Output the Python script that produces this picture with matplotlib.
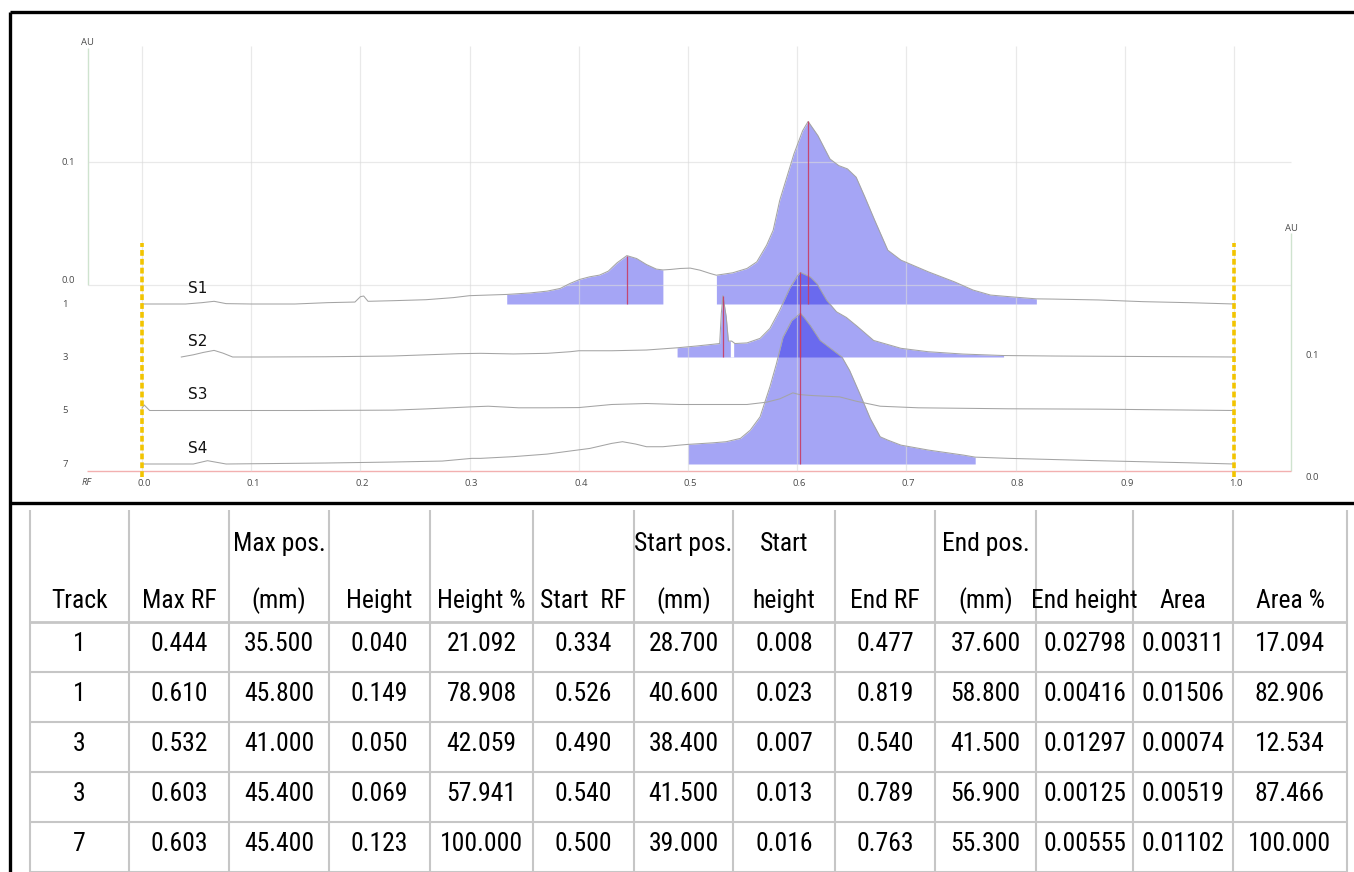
import matplotlib
matplotlib.use("Agg")
import matplotlib.pyplot as plt
import numpy as np
from matplotlib import font_manager
from matplotlib.font_manager import FontProperties

# ---------------- data: densitometric traces (Rf, AU above each track baseline) -------------
rf_t1 = [0.000, 0.040, 0.055, 0.066, 0.077, 0.100, 0.140, 0.170, 0.195, 0.200, 0.203, 0.207,
         0.230, 0.260, 0.285, 0.300, 0.334, 0.355, 0.371, 0.383, 0.392, 0.401, 0.410, 0.419,
         0.427, 0.435, 0.444, 0.453, 0.462, 0.471, 0.477, 0.484, 0.493, 0.502, 0.511, 0.520,
         0.526, 0.541, 0.554, 0.563, 0.572, 0.578, 0.584, 0.597, 0.605, 0.610, 0.619, 0.630,
         0.638, 0.646, 0.654, 0.662, 0.671, 0.683, 0.695, 0.720, 0.744, 0.761, 0.777, 0.794,
         0.819, 0.835, 0.876, 0.917, 0.958, 1.000]
au_t1 = [0.0000, 0.0000, 0.0011, 0.0022, 0.0003, 0.0000, 0.0000, 0.0011, 0.0016, 0.0060, 0.0065, 0.0022,
         0.0027, 0.0035, 0.0052, 0.0068, 0.0078, 0.0090, 0.0105, 0.0127, 0.0168, 0.0201, 0.0222, 0.0236,
         0.0268, 0.0336, 0.0395, 0.0371, 0.0322, 0.0285, 0.0278, 0.0282, 0.0290, 0.0293, 0.0276, 0.0250,
         0.0235, 0.0255, 0.0290, 0.0344, 0.0480, 0.0602, 0.0846, 0.1225, 0.1415, 0.1490, 0.1374, 0.1184,
         0.1130, 0.1103, 0.1035, 0.0873, 0.0683, 0.0439, 0.0358, 0.0263, 0.0181, 0.0114, 0.0073, 0.0060,
         0.0042, 0.0040, 0.0033, 0.0019, 0.0011, 0.0000]

rf_t3 = [0.036, 0.047, 0.056, 0.066, 0.074, 0.083, 0.107, 0.168, 0.229, 0.290, 0.310, 0.340,
         0.371, 0.392, 0.400, 0.430, 0.462, 0.490, 0.508, 0.523, 0.529, 0.5305, 0.532, 0.535,
         0.537, 0.540, 0.543, 0.554, 0.566, 0.575, 0.584, 0.593, 0.600, 0.603, 0.612, 0.618,
         0.627, 0.636, 0.645, 0.655, 0.670, 0.695, 0.720, 0.752, 0.789, 0.835, 0.917, 1.000]
au_t3 = [0.0000, 0.0018, 0.0037, 0.0054, 0.0032, 0.0000, 0.0000, 0.0002, 0.0008, 0.0027, 0.0030, 0.0025,
         0.0030, 0.0043, 0.0051, 0.0051, 0.0057, 0.0075, 0.0090, 0.0104, 0.0110, 0.0355, 0.0500, 0.0328,
         0.0130, 0.0130, 0.0110, 0.0115, 0.0152, 0.0233, 0.0382, 0.0558, 0.0660, 0.0690, 0.0653, 0.0599,
         0.0463, 0.0369, 0.0323, 0.0250, 0.0135, 0.0071, 0.0043, 0.0024, 0.0012, 0.0008, 0.0004, 0.0000]

rf_t5 = [0.000, 0.002, 0.007, 0.050, 0.150, 0.230, 0.260, 0.302, 0.317, 0.345, 0.371, 0.400,
         0.430, 0.462, 0.492, 0.523, 0.554, 0.572, 0.584, 0.596, 0.602, 0.614, 0.639, 0.654,
         0.676, 0.711, 0.793, 0.875, 1.000]
au_t5 = [0.0020, 0.0045, 0.0000, 0.0000, 0.0000, 0.0003, 0.0013, 0.0030, 0.0035, 0.0022, 0.0022, 0.0024,
         0.0049, 0.0057, 0.0049, 0.0049, 0.0049, 0.0068, 0.0095, 0.0144, 0.0130, 0.0122, 0.0111, 0.0076,
         0.0035, 0.0022, 0.0014, 0.0011, 0.0000]

rf_t7 = [0.000, 0.047, 0.060, 0.077, 0.168, 0.229, 0.275, 0.302, 0.310, 0.340, 0.371, 0.392,
         0.410, 0.430, 0.440, 0.452, 0.462, 0.477, 0.492, 0.500, 0.523, 0.535, 0.548, 0.557,
         0.566, 0.575, 0.581, 0.587, 0.595, 0.603, 0.606, 0.612, 0.621, 0.633, 0.641, 0.648,
         0.658, 0.667, 0.676, 0.683, 0.695, 0.720, 0.752, 0.763, 0.794, 0.875, 0.958, 1.000]
au_t7 = [0.0000, 0.0000, 0.0027, 0.0000, 0.0008, 0.0016, 0.0024, 0.0046, 0.0046, 0.0060, 0.0081, 0.0106,
         0.0127, 0.0168, 0.0182, 0.0163, 0.0141, 0.0141, 0.0154, 0.0160, 0.0173, 0.0182, 0.0209, 0.0276,
         0.0385, 0.0630, 0.0819, 0.1035, 0.1171, 0.1230, 0.1200, 0.1130, 0.1008, 0.0927, 0.0873, 0.0764,
         0.0560, 0.0370, 0.0222, 0.0195, 0.0154, 0.0114, 0.0073, 0.0056, 0.0046, 0.0027, 0.0010, 0.0000]

track_ids = [1, 3, 5, 7]
sample_names = ["S1", "S2", "S3", "S4"]
rf_ticks = [0.0, 0.1, 0.2, 0.3, 0.4, 0.5, 0.6, 0.7, 0.8, 0.9, 1.0]
au_ticks = [0.0, 0.1]

# ---------------- data: peak table ----------------
tbl_track = [1, 1, 3, 3, 7]
tbl_max_rf = [0.444, 0.610, 0.532, 0.603, 0.603]
tbl_max_pos = [35.500, 45.800, 41.000, 45.400, 45.400]
tbl_height = [0.040, 0.149, 0.050, 0.069, 0.123]
tbl_height_pct = [21.092, 78.908, 42.059, 57.941, 100.000]
tbl_start_rf = [0.334, 0.526, 0.490, 0.540, 0.500]
tbl_start_pos = [28.700, 40.600, 38.400, 41.500, 39.000]
tbl_start_height = [0.008, 0.023, 0.007, 0.013, 0.016]
tbl_end_rf = [0.477, 0.819, 0.540, 0.789, 0.763]
tbl_end_pos = [37.600, 58.800, 41.500, 56.900, 55.300]
tbl_end_height = [0.02798, 0.00416, 0.01297, 0.00125, 0.00555]
tbl_area = [0.00311, 0.01506, 0.00074, 0.00519, 0.01102]
tbl_area_pct = [17.094, 82.906, 12.534, 87.466, 100.000]
headers = [("", "Track"), ("", "Max RF"), ("Max pos.", "(mm)"), ("", "Height"), ("", "Height %"),
           ("", "Start  RF"), ("Start pos.", "(mm)"), ("Start", "height"), ("", "End RF"),
           ("End pos.", "(mm)"), ("", "End height"), ("", "Area"), ("", "Area %")]

# ---------------- layout (pixels of the 1354x872 canvas) ----------------
W, H = 1354, 872
X0, XS = 142.0, 1092.0        # Rf 0 position, px per Rf unit
Y0, YS = 284.5, 1225.0        # AU 0 (left axis) position, px per AU


def dx(px):
    return (px - X0) / XS


def dy(py):
    return (Y0 - py) / YS


track_base_px = [304.0, 357.0, 410.5, 464.0]
offsets = [dy(p) for p in track_base_px]


def pick_table_font():
    entries = font_manager.fontManager.ttflist

    def regular(f):
        return f.style == "normal" and str(f.weight) in ("400", "normal", "regular", "book")

    prefs = ["Liberation Sans Narrow", "Roboto Condensed", "Open Sans Condensed",
             "Noto Sans Condensed", "Arial Narrow", "DejaVu Sans Condensed"]
    for p in prefs:
        for f in entries:
            if f.name == p and regular(f):
                return FontProperties(fname=f.fname)
    for f in entries:
        if f.stretch in ("condensed", "semi-condensed", "extra-condensed") and regular(f):
            return FontProperties(fname=f.fname)
    for f in entries:
        if f.name == "Roboto" and regular(f):
            return FontProperties(fname=f.fname)
    return FontProperties(family="DejaVu Sans")


names = {f.name for f in font_manager.fontManager.ttflist}
SMALL_FONT = "Open Sans" if "Open Sans" in names else "DejaVu Sans"

fig = plt.figure(figsize=(W / 100, H / 100), dpi=100)
ax = fig.add_axes([0, 0, 1, 1])
ax.set_xlim(dx(0), dx(W))
ax.set_ylim(dy(H), dy(0))
ax.axis("off")

GRID = (0.86, 0.86, 0.86)
AXG = "#cfe3cf"
FILL = (0.0, 0.0, 0.89)
TRACE = "#a4a4a4"
MARK = "#c83c64"
GOLD = "#f2c400"
LBL = "#4a4a4a"

# grid (drawn above the areas, semi-transparent, as in the reference)
ax.vlines(rf_ticks, dy(471), dy(46), color=GRID, alpha=0.6, lw=0.9, zorder=2.7)
ax.hlines(au_ticks, dx(88), dx(1291), color=GRID, alpha=0.6, lw=0.9, zorder=2.7)
# axes lines
ax.vlines(dx(88), dy(284.5), dy(48), color=AXG, lw=1.0, zorder=1)
ax.vlines(dx(1291), dy(471), dy(233), color=AXG, lw=1.0, zorder=1)
ax.hlines(dy(471), dx(87), dx(1291), color="#f2b0b0", lw=1.0, zorder=1)

traces = {1: (rf_t1, au_t1), 3: (rf_t3, au_t3), 5: (rf_t5, au_t5), 7: (rf_t7, au_t7)}
off_of = dict(zip(track_ids, offsets))

# peak areas
for i, tr in enumerate(tbl_track):
    rf, au = traces[tr]
    a, b = tbl_start_rf[i], tbl_end_rf[i]
    inner = [x for x in rf if a < x < b]
    xs = np.array([a] + inner + [b])
    ys = np.interp(xs, rf, au)
    off = off_of[tr]
    ax.fill_between(xs, off, off + ys, color=FILL, alpha=0.353, lw=0, zorder=2)

# white separator where two peaks touch
for i in range(len(tbl_track) - 1):
    if tbl_track[i] == tbl_track[i + 1] and abs(tbl_end_rf[i] - tbl_start_rf[i + 1]) < 1e-9:
        rf, au = traces[tbl_track[i]]
        x = tbl_end_rf[i]
        off = off_of[tbl_track[i]]
        ax.vlines(x, off, off + np.interp(x, rf, au), color="white", lw=2.4, zorder=2.5)

# traces
for tr in track_ids:
    rf, au = traces[tr]
    ax.plot(rf, np.array(au) + off_of[tr], color=TRACE, lw=0.75, zorder=3)

# max markers
for i, tr in enumerate(tbl_track):
    rf, au = traces[tr]
    off = off_of[tr]
    ax.vlines(tbl_max_rf[i], off, off + np.interp(tbl_max_rf[i], rf, au), color=MARK, lw=0.9,
              alpha=0.9, zorder=4)

# application / front lines
for x in (0.0, 1.0):
    ax.plot([x, x], [dy(477), dy(243)], color=GOLD, lw=2.6, linestyle=(0, (1.6, 0.85)),
            solid_capstyle="butt", zorder=5)

# labels
sk = dict(fontsize=6.8, color=LBL, family=SMALL_FONT, ha="center", va="center")
for t in rf_ticks:
    ax.text(t + dx(144) - dx(142), dy(483), f"{t:.1f}", **sk)
ax.text(dx(87), dy(482), "RF", fontstyle="italic", **sk)
ax.text(dx(87), dy(42), "AU", **sk)
ax.text(dx(68), 0.1, "0.1", **sk)
ax.text(dx(68), dy(280), "0.0", **sk)
for tr, off in zip(track_ids, offsets):
    ax.text(dx(65), off, str(tr), **sk)
ax.text(dx(1291), dy(228), "AU", **sk)
ax.text(dx(1312), dy(355), "0.1", **sk)
ax.text(dx(1312), dy(477), "0.0", **sk)
for name, off in zip(sample_names, offsets):
    ax.text(dx(188), off + dy(288) - dy(304), name, fontsize=11, color="#111111",
            family="DejaVu Sans", ha="left", va="center")

# ---------------- frame + table ----------------
tx = fig.add_axes([0, 0, 1, 1], facecolor="none")
tx.set_xlim(0, W)
tx.set_ylim(H, 0)
tx.axis("off")

tx.vlines(10, 12, H, color="black", lw=2.4)
tx.hlines(12, 10, W, color="black", lw=2.4)
tx.hlines(503, 10, W, color="black", lw=2.4)

col_edges = [30, 129, 229, 329, 430, 533, 634, 733, 835, 935, 1036, 1133, 1233, 1347]
head_top, head_bot, row_h = 510, 621.5, 50.0
n_rows = len(tbl_track)
row_edges = [head_bot + k * row_h for k in range(n_rows + 1)]
TGRAY = "#c6c6c6"
tx.vlines(col_edges, head_top, row_edges[-1], color=TGRAY, lw=1.5)
tx.hlines(head_bot, col_edges[0], col_edges[-1], color=TGRAY, lw=2.0)
tx.hlines(row_edges[1:], col_edges[0], col_edges[-1], color=TGRAY, lw=1.5)

# table font: narrow face, sized so that a 7-character number is ~83 px wide (max 20 pt)
tfp = pick_table_font()
renderer = fig.canvas.get_renderer()
probe = tx.text(0, 0, "0.02798", fontproperties=tfp, fontsize=20)
wpx = probe.get_window_extent(renderer).width
probe.remove()
tsize = min(20.0, 20.0 * 83.0 / wpx)

centers = [(col_edges[j] + col_edges[j + 1]) / 2 for j in range(len(col_edges) - 1)]
tk = dict(fontproperties=tfp, fontsize=tsize, color="black", ha="center", va="baseline")
for j, (l1, l2) in enumerate(headers):
    if l1:
        tx.text(centers[j], 551, l1, **tk)
    tx.text(centers[j], 608, l2, **tk)

columns = [
    [str(v) for v in tbl_track],
    [f"{v:.3f}" for v in tbl_max_rf],
    [f"{v:.3f}" for v in tbl_max_pos],
    [f"{v:.3f}" for v in tbl_height],
    [f"{v:.3f}" for v in tbl_height_pct],
    [f"{v:.3f}" for v in tbl_start_rf],
    [f"{v:.3f}" for v in tbl_start_pos],
    [f"{v:.3f}" for v in tbl_start_height],
    [f"{v:.3f}" for v in tbl_end_rf],
    [f"{v:.3f}" for v in tbl_end_pos],
    [f"{v:.5f}" for v in tbl_end_height],
    [f"{v:.5f}" for v in tbl_area],
    [f"{v:.3f}" for v in tbl_area_pct],
]
for j, col in enumerate(columns):
    for i, s in enumerate(col):
        tx.text(centers[j], row_edges[i] + 29.5, s, **tk)

fig.savefig("out.png", dpi=100)
